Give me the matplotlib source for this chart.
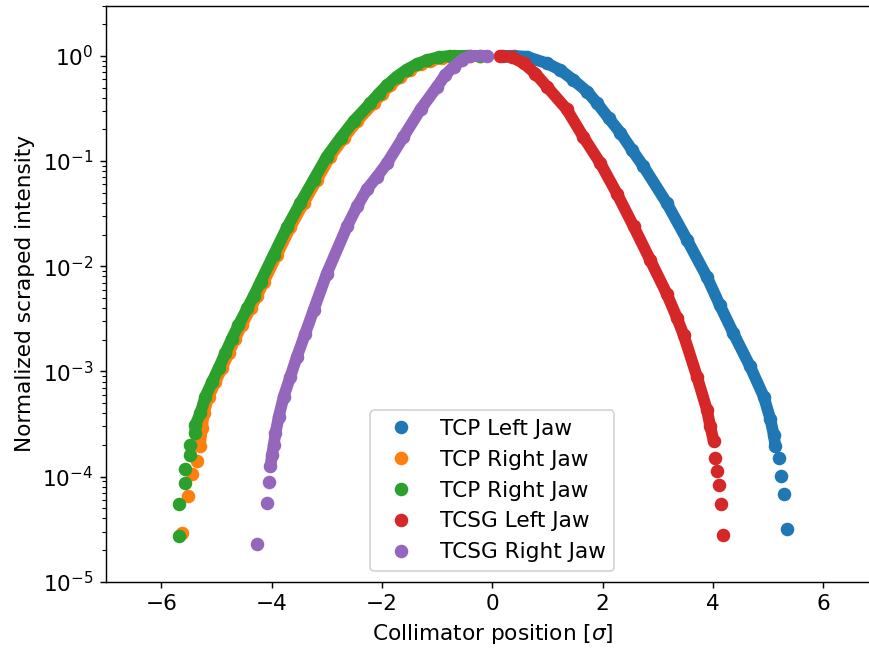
import matplotlib
matplotlib.use('Agg')

import matplotlib.pyplot as plt
import numpy as np

# values (x in sigma, y normalized intensity)
tcp_left_x = [0.20, 0.40, 0.63, 0.99, 1.23, 1.47, 1.72, 1.90, 2.11, 2.32, 2.53, 2.74, 3.16,
              3.53, 3.89, 4.12, 4.37, 4.67, 4.92, 5.04, 5.10, 5.13, 5.19, 5.24, 5.28, 5.34]
tcp_left_y = [1.0, 1.0, 0.98, 0.85, 0.736, 0.59, 0.457, 0.355, 0.256, 0.186, 0.128, 8.9e-2, 4.0e-2,
              1.78e-2, 7.9e-3, 4.3e-3, 2.3e-3, 1.12e-3, 5.75e-4, 3.5e-4, 2.5e-4, 1.95e-4, 1.5e-4,
              1.02e-4, 6.8e-5, 3.2e-5]

tcp_right1_x = [-5.62, -5.52, -5.44, -5.35, -5.30, -5.26, -5.23, -5.14, -5.02, -4.90, -4.78,
                -4.66, -4.54, -4.38, -4.26, -4.14, -3.90, -3.66, -3.42, -3.18, -2.94, -2.69,
                -2.45, -2.15, -2.00, -1.85, -1.67, -1.49, -1.30, -1.12, -0.91, -0.70, -0.40, -0.22]
tcp_right1_y = [2.9e-5, 6.5e-5, 1.05e-4, 1.4e-4, 1.95e-4, 2.9e-4, 4.0e-4, 5.75e-4, 7.9e-4, 1.07e-3,
                1.48e-3, 2.04e-3, 2.75e-3, 3.98e-3, 5.25e-3, 7.1e-3, 1.29e-2, 2.34e-2, 3.98e-2, 6.6e-2,
                0.110, 0.166, 0.24, 0.355, 0.436, 0.525, 0.635, 0.741, 0.84, 0.89, 0.96, 0.99, 1.0, 1.0]

tcp_right2_x = [-5.67, -5.67, -5.57, -5.57, -5.47, -5.47, -5.38, -5.38, -5.29, -5.20, -5.08,
                -4.96, -4.84, -4.72, -4.60, -4.44, -4.32, -4.20, -3.96, -3.72, -3.48, -3.24,
                -3.00, -2.75, -2.51, -2.21, -2.06, -1.91, -1.73, -1.55, -1.36, -1.18, -0.97,
                -0.76, -0.45, -0.22]
tcp_right2_y = [2.7e-5, 5.5e-5, 8.7e-5, 1.17e-4, 1.62e-4, 2.0e-4, 2.6e-4, 3.1e-4, 4.0e-4, 5.75e-4,
                7.9e-4, 1.07e-3, 1.48e-3, 2.04e-3, 2.75e-3, 3.98e-3, 5.25e-3, 7.1e-3, 1.29e-2, 2.34e-2,
                3.98e-2, 6.6e-2, 0.110, 0.166, 0.24, 0.355, 0.436, 0.525, 0.635, 0.741, 0.84, 0.912,
                0.975, 1.0, 1.0, 1.0]

tcsg_left_x = [0.14, 0.36, 0.57, 0.78, 0.99, 1.35, 1.65, 1.96, 2.26, 2.56, 2.86, 3.16, 3.35,
               3.47, 3.71, 3.89, 3.95, 4.01, 4.04, 4.08, 4.11, 4.14, 4.18]
tcsg_left_y = [1.0, 0.97, 0.85, 0.68, 0.51, 0.31, 0.17, 9.5e-2, 4.9e-2, 2.4e-2, 1.15e-2, 5.5e-3,
               3.2e-3, 2.2e-3, 8.9e-4, 4.3e-4, 3.0e-4, 2.2e-4, 1.5e-4, 1.12e-4, 8.3e-5, 5.5e-5, 2.8e-5]

tcsg_right_x = [-4.26, -4.08, -4.05, -4.02, -3.99, -3.96, -3.93, -3.87, -3.78, -3.66, -3.54,
                -3.39, -3.24, -3.00, -2.63, -2.45, -2.27, -2.09, -1.91, -1.61, -1.30, -1.00,
                -0.85, -0.70, -0.55, -0.40, -0.10]
tcsg_right_y = [2.3e-5, 5.6e-5, 8.9e-5, 1.26e-4, 1.62e-4, 2.0e-4, 2.57e-4, 3.7e-4, 5.75e-4, 8.9e-4,
                1.38e-3, 2.29e-3, 3.8e-3, 8.5e-3, 2.4e-2, 3.7e-2, 5.4e-2, 7.1e-2, 9.5e-2, 0.17, 0.31,
                0.51, 0.66, 0.79, 0.92, 1.0, 1.0]

labels = ['TCP Left Jaw', 'TCP Right Jaw', 'TCP Right Jaw', 'TCSG Left Jaw', 'TCSG Right Jaw']

plt.rcParams['font.size'] = 12

fig = plt.figure(figsize=(869 / 130., 649 / 130.), dpi=130)
ax = fig.add_axes([0.122, 0.1037, 0.889, 0.8875])

ms = 6.5
series = [(tcp_left_x, tcp_left_y, slice(0, 22)),
          (tcp_right1_x, tcp_right1_y, slice(4, None)),
          (tcp_right2_x, tcp_right2_y, slice(6, None)),
          (tcsg_left_x, tcsg_left_y, slice(0, 18)),
          (tcsg_right_x, tcsg_right_y, slice(3, None))]

for i, (x, y, band) in enumerate(series):
    x = np.array(x)
    y = np.array(y)
    c = 'C%d' % i
    # dense part of the scatter: overlapping markers look like a thick band
    ax.plot(x[band], y[band], '-', color=c, lw=ms, solid_capstyle='round', solid_joinstyle='round')
    ax.plot(x, y, 'o', color=c, ms=ms, label=labels[i])

ax.set_yscale('log')
ax.set_xlim(-7, 7)
ax.set_ylim(1e-5, 3)
ax.set_xlabel(r'Collimator position [$\sigma$]')
ax.set_ylabel('Normalized scraped intensity')
ax.legend(loc='lower center')

plt.savefig('out.png', dpi=130)
